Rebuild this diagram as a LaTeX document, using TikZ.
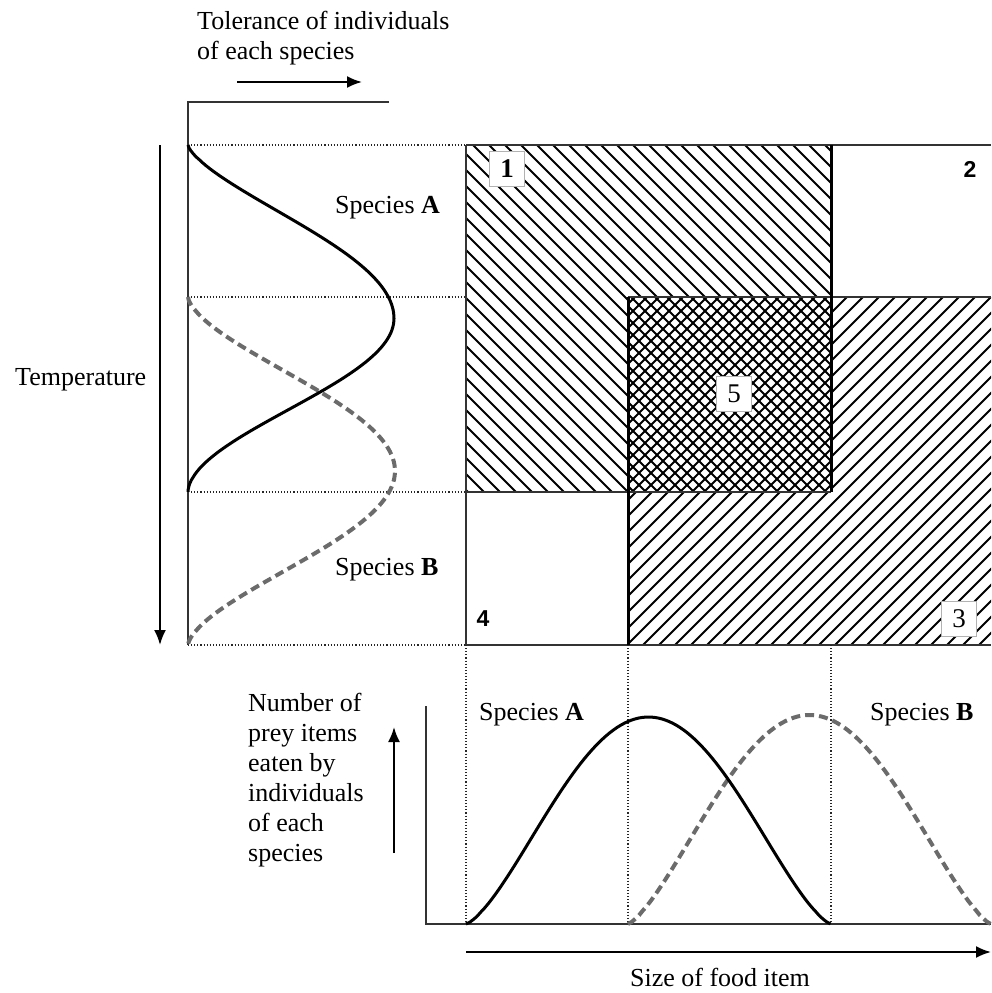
\documentclass[tikz,border=0pt]{standalone}
\usepackage{fontspec}
\setmainfont{Liberation Serif}
\newfontfamily\numfont{Liberation Sans}
\usetikzlibrary{arrows.meta}
\begin{document}
\begin{tikzpicture}[x=1pt,y=-1pt,
  lbl/.style={font=\fontsize{26}{30}\selectfont, inner sep=0pt, align=left},
  numbox/.style={draw=black!30, fill=white, line width=1pt, minimum width=35pt, minimum height=35pt, inner sep=0pt, font=\fontsize{27}{27}\selectfont},
  plainnum/.style={font=\numfont\bfseries\fontsize{23}{23}\selectfont, inner sep=0pt},
  curveA/.style={line width=3pt, black},
  curveB/.style={line width=4pt, black!58, dash pattern=on 9pt off 5pt},
  dotline/.style={line width=1.1pt, dotted, black!85},
  hatchline/.style={line width=2pt},
  crossline/.style={line width=1.9pt},
  frame/.style={line width=1.5pt, black!80},
  thickframe/.style={line width=3pt, black},
  arr/.style={-{Latex[length=15pt,width=12pt]}, line width=2pt}
]
\useasboundingbox (0,0) rectangle (991,993);

% ---------- key coordinates ----------
\coordinate (g11) at (466,145);
\coordinate (gTR) at (991,145);
\coordinate (gBL) at (466,645);
\coordinate (gBR) at (991,645);
\coordinate (r1BL) at (466,492);
\coordinate (r1BR) at (831,492);
\coordinate (r1TR) at (831,145);
\coordinate (r3TL) at (628,297);
\coordinate (r3TR) at (991,297);
\coordinate (r3BL) at (628,645);

% ---------- hatching ----------
\begin{scope}
  \clip (466,145) rectangle (831,492);
  \foreach \c in {-40,-24,...,700}
    \draw[hatchline] ({\c+145},145) -- ({\c+492},492);
\end{scope}
\begin{scope}
  \clip (628,297) rectangle (991,645);
  \foreach \c in {920,936,...,1650}
    \draw[hatchline] ({\c-297},297) -- ({\c-645},645);
\end{scope}
\fill[white] (628,297) rectangle (831,492);
\begin{scope}
  \clip (628,297) rectangle (831,492);
  \foreach \c in {130,142,...,540}
    \draw[crossline] ({\c+297},297) -- ({\c+492},492);
  \foreach \c in {920,932,...,1330}
    \draw[crossline] ({\c-297},297) -- ({\c-492},492);
\end{scope}

% ---------- frames ----------
\draw[frame] (g11) -- (gTR);
\draw[frame] (gBL) -- (gBR);
\draw[frame] (g11) -- (gBL);
\draw[frame] (r1BL) -- (r1BR);
\draw[frame] (r3TL) -- (r3TR);
\draw[thickframe] (r1TR) -- (r1BR);
\draw[thickframe] (r3TL) -- (r3BL);

% ---------- dotted guides ----------
\coordinate (l1) at (188,145);
\coordinate (l2) at (188,297);
\coordinate (l3) at (188,492);
\coordinate (l4) at (188,645);
\coordinate (m2) at (466,297);
\draw[dotline] (l1) -- (g11);
\draw[dotline] (l2) -- (m2);
\draw[dotline] (l3) -- (r1BL);
\draw[dotline] (l4) -- (gBL);
\coordinate (b1) at (466,924);
\coordinate (b2) at (628,924);
\coordinate (b3) at (831,924);
\coordinate (c3) at (831,645);
\draw[dotline] (gBL) -- (b1);
\draw[dotline] (r3BL) -- (b2);
\draw[dotline] (c3) -- (b3);

% ---------- axes and arrows ----------
\coordinate (ltop) at (188,102);
\coordinate (ltopR) at (389,102);
\draw[frame] (ltopR) -- (ltop) -- (l4);
\coordinate (tolS) at (237,82);
\coordinate (tolE) at (362,82);
\draw[arr] (tolS) -- (tolE);
\coordinate (tmpS) at (160,145);
\coordinate (tmpE) at (160,645);
\draw[arr] (tmpS) -- (tmpE);
\coordinate (bax) at (426,706);
\coordinate (bo) at (426,924);
\coordinate (bxr) at (991,924);
\draw[frame] (bax) -- (bo) -- (bxr);
\coordinate (upS) at (394,853);
\coordinate (upE) at (394,727);
\draw[arr] (upS) -- (upE);
\coordinate (szS) at (466,952);
\coordinate (szE) at (991,952);
\draw[arr] (szS) -- (szE);

% ---------- curves ----------
\draw[curveB] plot[domain=0:1, samples=100, variable=\t]
  ({188+207*pow(abs(sin(180*\t))+0.00001,1.6)}, {297+348*\t});
\draw[curveA] plot[domain=0:0.5, samples=60, variable=\t]
  ({188+206*pow(abs(sin(180*\t))+0.00001,1.45)}, {145+347*\t})
  -- plot[domain=0.5:1, samples=60, variable=\t]
  ({188+206*pow(abs(sin(180*\t))+0.00001,1.85)}, {145+347*\t});
\draw[curveB] plot[domain=0:1, samples=100, variable=\t]
  ({628+363*\t}, {924-209*pow(abs(sin(180*\t))+0.00001,1.35)});
\draw[curveA] plot[domain=0:1, samples=100, variable=\t]
  ({466+365*\t}, {924-207*pow(abs(sin(180*\t))+0.00001,1.4)});

% ---------- labels ----------
\node[lbl, anchor=west] (tol) at (197,38) {Tolerance of individuals\\of each species};
\node[lbl, anchor=west] (temp) at (15,380) {Temperature};
\node[lbl, anchor=west] (spAl) at (335,208) {Species \textbf{A}};
\node[lbl, anchor=west] (spBl) at (335,570) {Species \textbf{B}};
\node[lbl, anchor=west] (num) at (248,780) {Number of\\prey items\\eaten by\\individuals\\of each\\species};
\node[lbl, anchor=west] (spAb) at (479,715) {Species \textbf{A}};
\node[lbl, anchor=west] (spBb) at (870,715) {Species \textbf{B}};
\node[lbl, anchor=center] (size) at (720,977) {Size of food item};

\node[numbox, font=\bfseries\fontsize{27}{27}\selectfont] (n1) at (507,169) {1};
\node[plainnum] (n2) at (970,169) {2};
\node[numbox] (n3) at (959,619) {3};
\node[plainnum] (n4) at (483,619) {4};
\node[numbox] (n5) at (734,394) {5};
\end{tikzpicture}
\end{document}
